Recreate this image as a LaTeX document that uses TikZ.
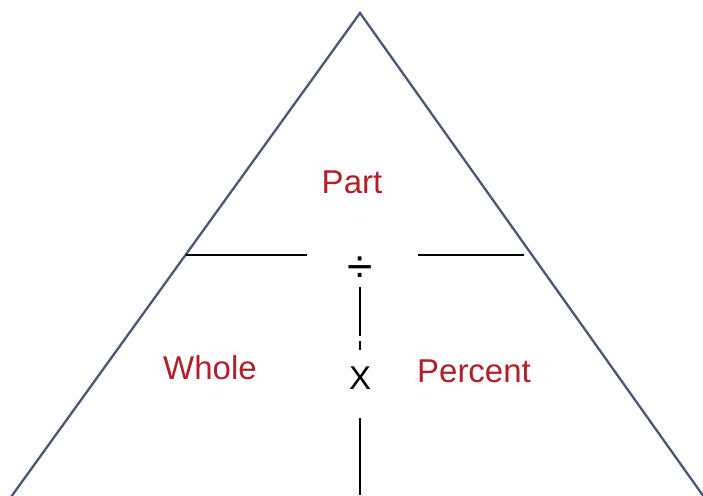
\documentclass[tikz,border=0pt]{standalone}
\usepackage{fontspec}
\setmainfont{Liberation Sans}
\definecolor{edgeblue}{HTML}{4A5873}
\definecolor{labelred}{HTML}{B0202A}
\begin{document}
\begin{tikzpicture}[x=1pt,y=-1pt,
  edge/.style={draw=edgeblue,line width=2.3pt,line join=miter},
  rule/.style={draw=black,line width=1.3pt},
  lbl/.style={text=labelred,font=\fontsize{33}{36}\selectfont,inner sep=0pt},
  op/.style={text=black,font=\fontsize{33}{36}\selectfont,inner sep=0pt}]
\useasboundingbox (0,0) rectangle (703,495);
\fill[white] (0,0) rectangle (703,495);
\coordinate (apex) at (360,13);
\coordinate (bl) at (11,497);
\coordinate (br) at (704,497);
\draw[edge] (bl) -- (apex) -- (br);
\coordinate (h1a) at (186,255);
\coordinate (h1b) at (307,255);
\coordinate (h2a) at (418,255);
\coordinate (h2b) at (524,255);
\draw[rule] (h1a) -- (h1b);
\draw[rule] (h2a) -- (h2b);
\node[op,font=\fontsize{46}{50}\selectfont] (div) at (360,270) {÷};
\coordinate (v1a) at (360,287);
\coordinate (v1b) at (360,336);
\coordinate (v1c) at (360,341);
\coordinate (v1d) at (360,350);
\draw[rule,line width=1.2pt] (v1a) -- (v1b);
\draw[rule,line width=1.2pt] (v1c) -- (v1d);
\node[op] (times) at (360,378) {X};
\coordinate (v2a) at (360,418);
\coordinate (v2b) at (360,495);
\draw[rule,line width=1.2pt] (v2a) -- (v2b);
\node[lbl] (part) at (352,182) {Part};
\node[lbl] (whole) at (210,368) {Whole};
\node[lbl] (percent) at (474,371) {Percent};
\end{tikzpicture}
\end{document}
